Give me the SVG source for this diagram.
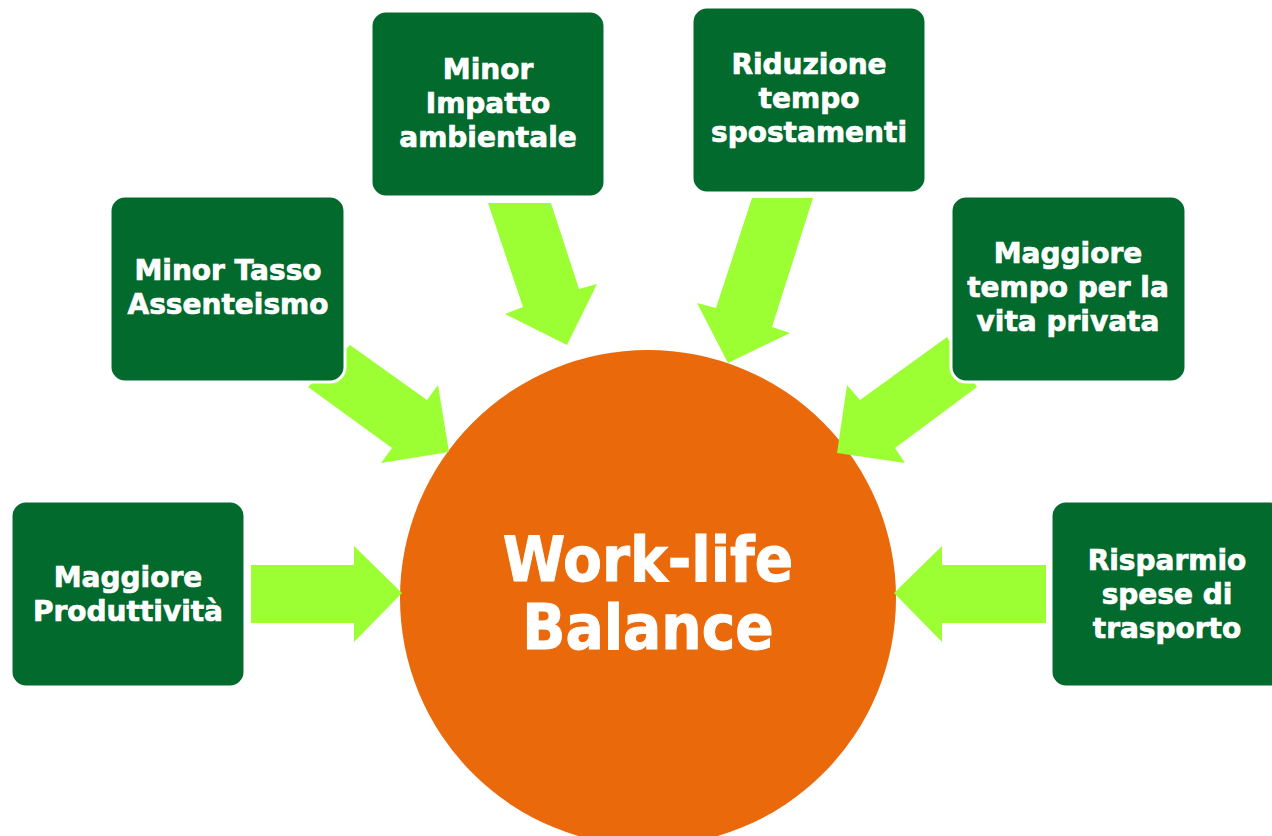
<svg xmlns="http://www.w3.org/2000/svg" width="1272" height="836" viewBox="0 0 1272 836">
<style>
.arrow{fill:#9BFF33;stroke:none}
.box{fill:#036A2E;stroke:#ffffff;stroke-width:3}
.t{font-family:"DejaVu Sans","Liberation Sans",sans-serif;font-weight:bold;font-size:28px;fill:#ffffff;stroke:#ffffff;stroke-width:0.7;text-anchor:middle}
.main{font-family:"DejaVu Sans Condensed","DejaVu Sans","Liberation Sans",sans-serif;font-weight:bold;font-size:63px;fill:#ffffff;stroke:#ffffff;stroke-width:1;text-anchor:middle}
</style>
<rect width="1272" height="836" fill="#ffffff"/>
<g id="center">
<circle cx="648" cy="598" r="248" fill="#E9690B"/>
<text class="main" x="648" y="581">Work-life</text>
<text class="main" x="648" y="649">Balance</text>
</g>
<g id="connectors">
<polygon class="arrow" points="251,565 354,565 354,546 402,593 354,642 354,623 251,623"/>
<polygon class="arrow" points="350,345 427,400 438,385 449,452 381,463 392,448 308,387"/>
<polygon class="arrow" points="488,203 551,203 579,289 597,284 567,345 505,314 523,307"/>
<polygon class="arrow" points="752,198 813,198 772,327 790,333 728,363 697,303 716,308"/>
<polygon class="arrow" points="947,337 977,387 895,448 905,463 837,453 847,385 860,400"/>
<polygon class="arrow" points="1046,565 942,565 942,546 894,593 942,642 942,623 1046,623"/>
</g>
<g id="node-produttivita">
<rect class="box" x="11" y="501" width="234" height="186" rx="15"/>
<text class="t" x="128" y="587">Maggiore</text>
<text class="t" x="128" y="621">Produttività</text>
</g>
<g id="node-assenteismo">
<rect class="box" x="110" y="196" width="235" height="186" rx="15"/>
<text class="t" x="228" y="280">Minor Tasso</text>
<text class="t" x="228" y="314">Assenteismo</text>
</g>
<g id="node-impatto">
<rect class="box" x="371" y="11" width="234" height="186" rx="15"/>
<text class="t" x="488" y="79">Minor</text>
<text class="t" x="488" y="113">Impatto</text>
<text class="t" x="488" y="147">ambientale</text>
</g>
<g id="node-spostamenti">
<rect class="box" x="692" y="7" width="234" height="186" rx="15"/>
<text class="t" x="809" y="74">Riduzione</text>
<text class="t" x="809" y="108">tempo</text>
<text class="t" x="809" y="142">spostamenti</text>
</g>
<g id="node-vita-privata">
<rect class="box" x="951" y="196" width="235" height="186" rx="15"/>
<text class="t" x="1068" y="263">Maggiore</text>
<text class="t" x="1068" y="297">tempo per la</text>
<text class="t" x="1068" y="331">vita privata</text>
</g>
<g id="node-trasporto">
<rect class="box" x="1051" y="501" width="234" height="186" rx="15"/>
<text class="t" x="1167" y="570">Risparmio</text>
<text class="t" x="1167" y="604">spese di</text>
<text class="t" x="1167" y="638">trasporto</text>
</g>
</svg>
